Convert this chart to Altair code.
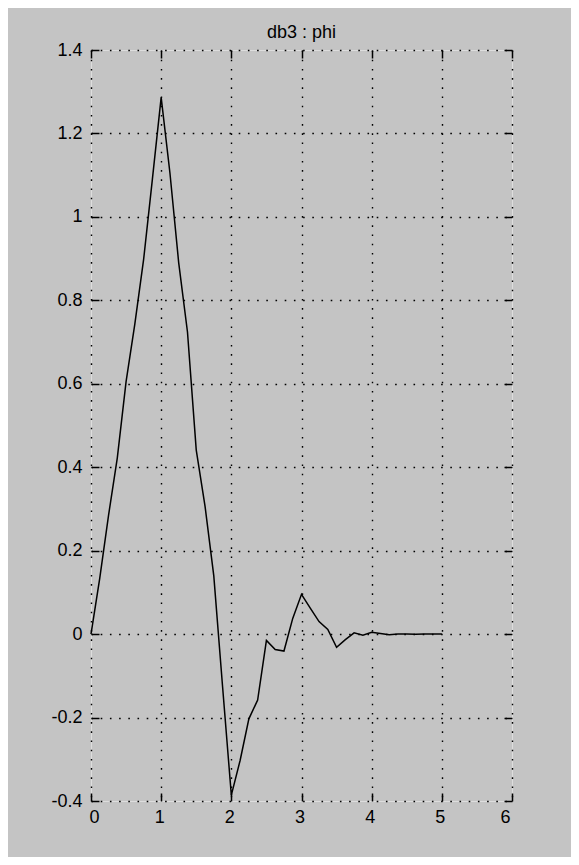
import altair as alt
import pandas as pd

title_text = "db3 : phi"

x_values = [0.0, 0.125, 0.25, 0.375, 0.5, 0.625, 0.75, 0.875,
            1.0, 1.125, 1.25, 1.375, 1.5, 1.625, 1.75, 1.875,
            2.0, 2.125, 2.25, 2.375, 2.5, 2.625, 2.75, 2.875,
            3.0, 3.125, 3.25, 3.375, 3.5, 3.625, 3.75, 3.875,
            4.0, 4.125, 4.25, 4.375, 4.5, 4.625, 4.75, 4.875, 5.0]

phi_values = [0.0, 0.134, 0.2847, 0.4225, 0.6052, 0.7436, 0.8981, 1.0904,
              1.2863, 1.1052, 0.8899, 0.7241, 0.4411, 0.3069, 0.1394, -0.1257,
              -0.3858, -0.3029, -0.203, -0.1581, -0.015, -0.0369, -0.0406, 0.0376,
              0.0953, 0.0621, 0.03, 0.0113, -0.0315, -0.0134, 0.003, -0.0024,
              0.0042, 0.0017, -0.0016, 0.0002, 0.0002, -0.0001, 0.0, 0.0, 0.0]

x_ticks = [0, 1, 2, 3, 4, 5, 6]
y_ticks = [-0.4, -0.2, 0, 0.2, 0.4, 0.6, 0.8, 1.0, 1.2, 1.4]

df = pd.DataFrame({"x": x_values, "phi": phi_values})

FONT = "Liberation Sans"
x_scale = alt.Scale(domain=[0, 6], nice=False, zero=False)
y_scale = alt.Scale(domain=[-0.4, 1.4], nice=False, zero=False)

grid_common = dict(grid=True, gridColor="black", gridOpacity=1, gridWidth=1.4,
                   gridDash=[1.6, 7.6], domain=False, ticks=False, title=None,
                   labelFont=FONT, labelFontSize=18, labelColor="black",
                   minExtent=0)

main = alt.Chart(df).mark_line(color="black", strokeWidth=1.5).encode(
    x=alt.X("x:Q", scale=x_scale,
            axis=alt.Axis(values=x_ticks, orient="bottom", labelPadding=7,
                          labelOffset=-2, format="d", **grid_common)),
    y=alt.Y("phi:Q", scale=y_scale,
            axis=alt.Axis(values=y_ticks, orient="left", labelPadding=9,
                          labelExpr="toString(round(datum.value*10)/10)",
                          **grid_common)),
)

tick_common = dict(grid=False, domain=False, labels=False, ticks=True,
                   tickColor="black", tickWidth=1.5, tickSize=8, offset=-8,
                   title=None, minExtent=0, maxExtent=0)


def tick_layer(x_orient=None, y_orient=None):
    xa = alt.Axis(values=x_ticks, orient=x_orient, **tick_common) if x_orient else None
    ya = alt.Axis(values=y_ticks, orient=y_orient, **tick_common) if y_orient else None
    return alt.Chart(df).mark_line(strokeOpacity=0).encode(
        x=alt.X("x:Q", scale=x_scale, axis=xa),
        y=alt.Y("phi:Q", scale=y_scale, axis=ya),
    )


chart = alt.layer(
    main,
    tick_layer(x_orient="bottom"),
    tick_layer(x_orient="top"),
    tick_layer(y_orient="left"),
    tick_layer(y_orient="right"),
).resolve_axis(
    x="independent", y="independent"
).properties(
    width=421,
    height=751,
    autosize=alt.AutoSizeParams(type="none"),
    padding={"left": 83, "top": 42, "right": 59, "bottom": 56},
    title=alt.TitleParams(title_text, font=FONT, fontSize=18, fontWeight="normal",
                          color="black", baseline="alphabetic", offset=10,
                          anchor="middle", frame="group", dy=25),
).configure_view(
    stroke="black", strokeWidth=2, fill="white"
).configure(
    background="#c4c4c4"
)

chart.save("out.html", embed_options={"renderer": "svg", "actions": False})
